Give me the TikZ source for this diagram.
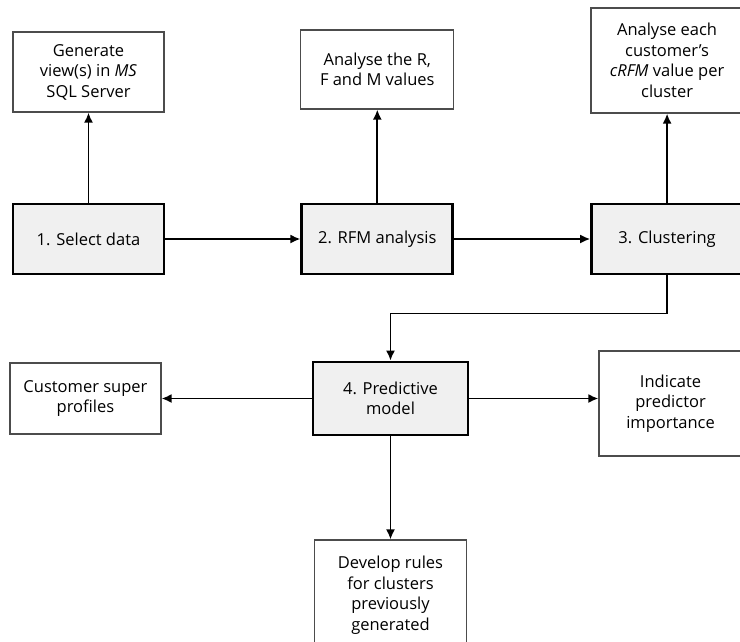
\documentclass[tikz,border=0pt]{standalone}
\usepackage{fontspec}
\setmainfont{Open Sans}
\usetikzlibrary{positioning,arrows.meta}
\begin{document}
\begin{tikzpicture}[x=1pt, y=1pt, font=\fontsize{16.5}{20.5}\selectfont,
    stepbox/.style={rectangle, draw=black, line width=2.8pt, fill=black!6, minimum width=151pt, minimum height=70pt, align=center, inner sep=0pt},
    notebox/.style={rectangle, draw=black!70, line width=1.3pt, fill=white, minimum width=151pt, align=center, inner sep=0pt},
    arrow/.style={-{Latex[length=10pt,width=9pt]}, line width=1.8pt}
]
\useasboundingbox (0,-641) rectangle (740,0);

% Main steps
\node[stepbox] (select) at (88.5,-239) {1. Select data};
\node[stepbox, right=135pt of select] (rfm) {2. RFM analysis};
\node[stepbox, right=136pt of rfm] (cluster) {3. Clustering};
\node[stepbox, minimum width=155pt, minimum height=73pt] (predictive) at (390.5,-398.5) {4. Predictive\\model};

% Outputs
\node[notebox, above=90pt of select, minimum height=80pt] (generate) {Generate\\view(s) in \emph{MS}\\SQL Server};
\node[notebox, above=93pt of rfm, minimum width=153pt, minimum height=79pt] (rfmvalues) {Analyse the R,\\F and M values};
\node[notebox, above=89pt of cluster, minimum width=152pt, minimum height=105pt] (crfm) {Analyse each\\customer’s\\\emph{cRFM} value per\\cluster};
\node[notebox, left=150pt of predictive, minimum height=71pt] (profiles) {Customer super\\profiles};
\node[notebox, right=129pt of predictive, yshift=-5pt, minimum width=143pt, minimum height=105pt] (importance) {Indicate\\predictor\\importance};
\node[notebox, below=103pt of predictive, minimum width=152pt, minimum height=110pt] (rules) {Develop rules\\for clusters\\previously\\generated};

% Arrows
\draw[arrow] (select) -- (rfm);
\draw[arrow] (rfm) -- (cluster);
\draw[arrow] (select) -- (generate);
\draw[arrow] (rfm) -- (rfmvalues);
\draw[arrow] (cluster) -- (crfm);
\draw[arrow] (cluster.south) -- ++(0,-38) -| (predictive);
\draw[arrow] (predictive) -- (profiles);
\draw[arrow] (predictive) -- (predictive -| importance.west);
\draw[arrow] (predictive) -- (rules);

\end{tikzpicture}
\end{document}
